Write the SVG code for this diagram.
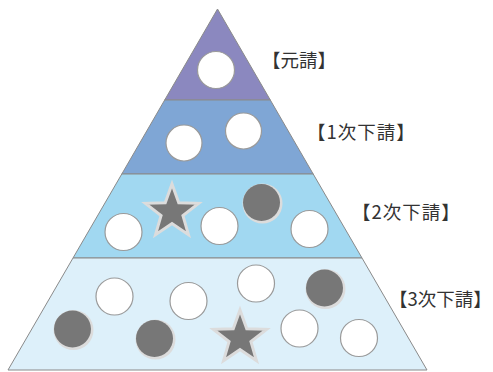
<svg xmlns="http://www.w3.org/2000/svg" width="493" height="372" viewBox="0 0 493 372">
<style>
.band{stroke:#8a8a8a;stroke-width:1}
.w{fill:#fff;stroke:#9a9a9a;stroke-width:1.2}
.d{fill:#777}
.dh{fill:#dcdcdc}
.star{fill:#777;stroke:#dcdcdc;stroke-width:3;stroke-linejoin:miter}
.lbl{font-family:"Noto Sans CJK JP","Noto Sans CJK SC",sans-serif;font-size:18.5px;fill:#333}
.sp{letter-spacing:1px}
</style>
<defs>
<polygon id="star" points="0,-28 6.76,-9.3 26.63,-8.65 10.94,3.55 16.46,22.65 0,11.5 -16.46,22.65 -10.94,3.55 -26.63,-8.65 -6.76,-9.3"/>
</defs>
<rect width="493" height="372" fill="#fff"/>
<g id="tier-motouke">
<polygon class="band" fill="#8B88BF" points="217.5,9 270.3,100 164.7,100"/>
<circle class="w" cx="216" cy="70" r="18.5"/>
<text class="lbl" x="262" y="66.5">【元請】</text>
</g>
<g id="tier-1">
<polygon class="band" fill="#7FA6D5" points="164.7,100 270.3,100 313.2,174 121.8,174"/>
<circle class="w" cx="184" cy="143" r="18"/>
<circle class="w" cx="243.5" cy="131" r="18"/>
<text class="lbl sp" x="307" y="138.5">【1次下請】</text>
</g>
<g id="tier-2">
<polygon class="band" fill="#A1D8F1" points="121.8,174 313.2,174 362,258 73,258"/>
<circle class="w" cx="123.5" cy="232" r="18.5"/>
<use href="#star" class="star" transform="translate(172,212)"/>
<circle class="w" cx="219.5" cy="226" r="18.5"/>
<circle class="dh" cx="262.5" cy="203.5" r="20"/>
<circle class="d" cx="261.5" cy="202.5" r="18.5"/>
<circle class="w" cx="309.5" cy="229" r="18.5"/>
<text class="lbl sp" x="352" y="218.5">【2次下請】</text>
</g>
<g id="tier-3">
<polygon class="band" fill="#DDF0FA" points="73,258 362,258 427,370 8,370"/>
<circle class="w" cx="114.5" cy="296.5" r="18.5"/>
<circle class="w" cx="188.5" cy="301" r="18.5"/>
<circle class="w" cx="256" cy="283.5" r="18.5"/>
<circle class="dh" cx="325.5" cy="289" r="20"/>
<circle class="d" cx="324.5" cy="288" r="18.5"/>
<circle class="dh" cx="73.5" cy="330" r="20"/>
<circle class="d" cx="72.5" cy="329" r="18.5"/>
<circle class="dh" cx="155.5" cy="339.5" r="20"/>
<circle class="d" cx="154.5" cy="338.5" r="18.5"/>
<use href="#star" class="star" transform="translate(240,338)"/>
<circle class="w" cx="299.5" cy="328.5" r="18.5"/>
<circle class="w" cx="359" cy="338" r="18.5"/>
<text class="lbl" x="389" y="305.5">【3次下請】</text>
</g>
</svg>
